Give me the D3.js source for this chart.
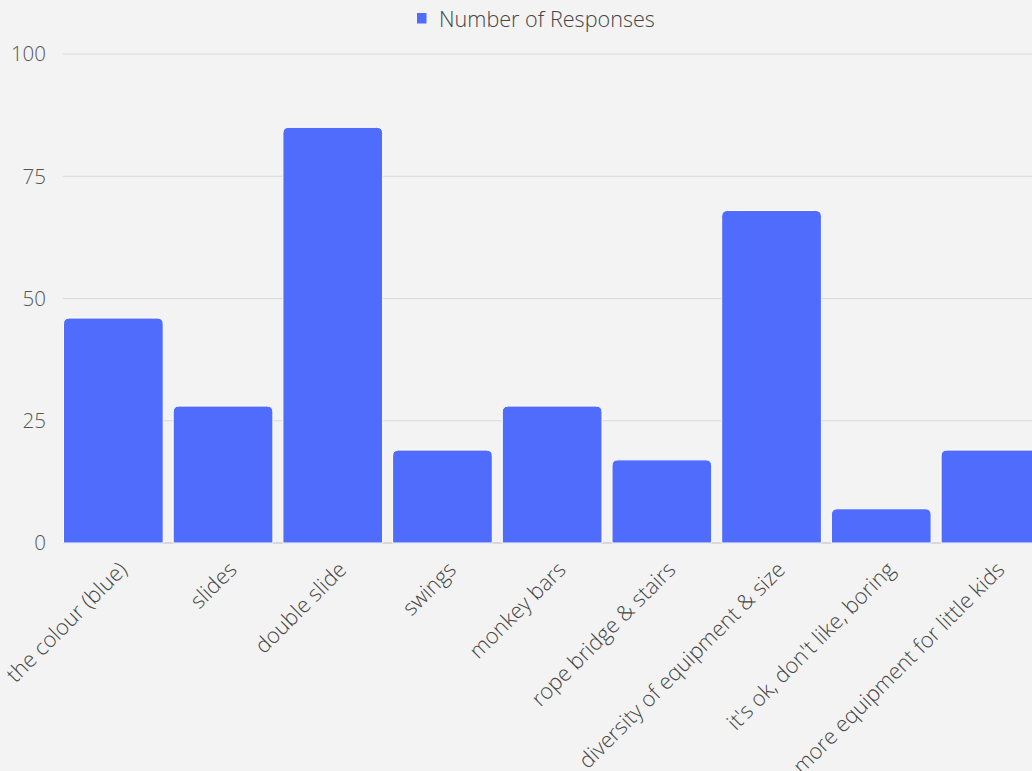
<!DOCTYPE html>
<html><head><meta charset="utf-8">
<script src="https://cdn.jsdelivr.net/npm/d3@7"></script>
<style>
html,body{margin:0;padding:0;background:#f3f3f3;overflow:hidden;}
svg{display:block;font-family:"Open Sans",sans-serif;font-weight:300;}
</style></head>
<body>
<svg id="chart" width="1032" height="771"></svg>
<script>
const categories = ["the colour (blue)","slides","double slide","swings","monkey bars","rope bridge & stairs","diversity of equipment & size","it's ok, don't like, boring","more equipment for little kids"];
const responses = [46,28,85,19,28,17,68,7,19];
const yTicks = [0,25,50,75,100];
const seriesName = "Number of Responses";

const svg = d3.select("#chart");
const W = 1032, H = 771;
svg.append("rect").attr("width",W).attr("height",H).attr("fill","#f3f3f3");

const step = 109.7;
const x = d3.scaleBand().domain(categories)
  .range([58.5, 58.5 + step*categories.length])
  .paddingInner(10/step).paddingOuter(5/step);
const y = d3.scaleLinear().domain([0,100]).range([543,54]);

// gridlines
svg.append("g").selectAll("line").data(yTicks.filter(d=>d>0)).join("line")
  .attr("x1",63).attr("x2",W).attr("y1",d=>y(d)).attr("y2",d=>y(d))
  .attr("stroke","#d9d9d9").attr("stroke-width",1.2);
svg.append("line").attr("x1",63).attr("x2",W).attr("y1",y(0)).attr("y2",y(0))
  .attr("stroke","#bdbdbd").attr("stroke-width",1.2);

// y tick labels
svg.append("g").selectAll("text").data(yTicks).join("text")
  .attr("x",46).attr("y",d=>y(d)).attr("dy","0.36em")
  .attr("text-anchor","end").attr("font-size",20.5).attr("fill","#555")
  .text(d=>d);

// bars with rounded top corners
function topRounded(x0,y0,w,h,r){
  r=Math.min(r,h,w/2);
  return `M${x0},${y0+h}V${y0+r}Q${x0},${y0} ${x0+r},${y0}H${x0+w-r}Q${x0+w},${y0} ${x0+w},${y0+r}V${y0+h}Z`;
}
svg.append("g").selectAll("path").data(categories).join("path")
  .attr("d",(c,i)=>topRounded(x(c), y(responses[i]), x.bandwidth(), y(0)-y(responses[i]), 6))
  .attr("fill","#4f6cfd").attr("stroke","#ffffff").attr("stroke-width",1);

// x labels
svg.append("g").selectAll("text").data(categories).join("text")
  .attr("transform",c=>`translate(${x(c)+x.bandwidth()/2+15},${y(0)+28}) rotate(-45)`)
  .attr("text-anchor","end").attr("font-size",21.7).attr("fill","#444")
  .text(c=>c);

// legend
const lg = svg.append("g");
lg.append("rect").attr("x",417).attr("y",13).attr("width",9.5).attr("height",10.5).attr("fill","#4f6cfd");
lg.append("text").attr("x",439).attr("y",26.5).attr("font-size",21.6).attr("fill","#444").text(seriesName);
</script>
</body></html>
